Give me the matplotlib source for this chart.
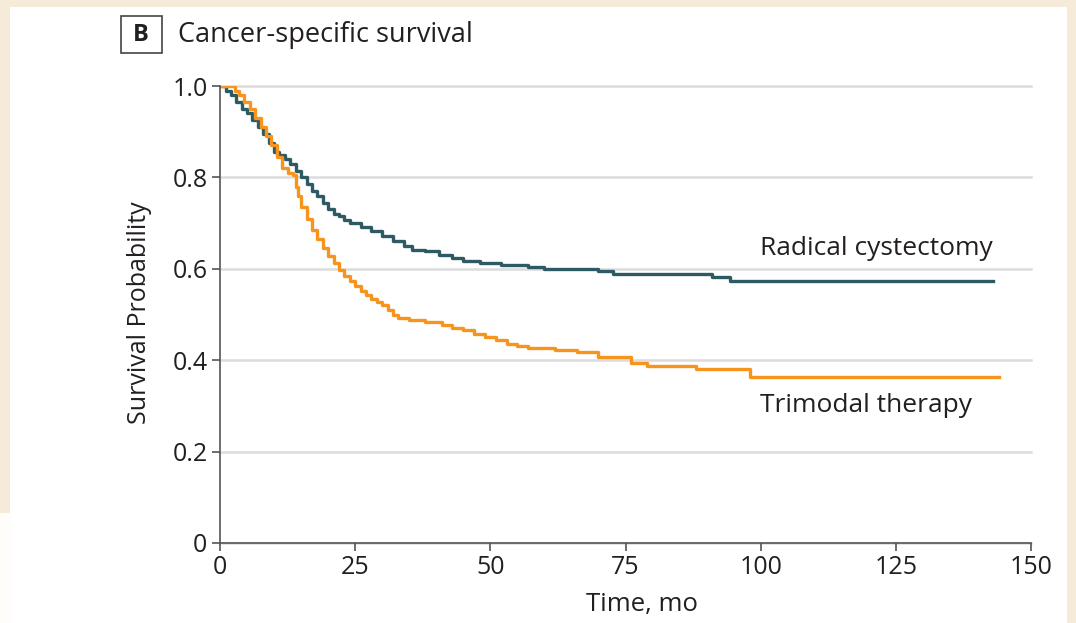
import matplotlib
matplotlib.use("Agg")
import matplotlib.pyplot as plt
from matplotlib.patches import Rectangle

# ---- data ----
rc_time = [0, 1.2, 2, 3, 4, 5, 6, 7, 8, 9, 10, 11, 12, 13, 14, 15, 16, 17, 18, 19,
           20, 21, 22, 23, 24, 26, 28, 30, 32, 34, 35.5, 38, 40.5, 43, 45, 48, 52,
           57, 60, 70, 72.7, 91, 94.3, 143]
rc_surv = [1.0, 0.99, 0.98, 0.965, 0.95, 0.94, 0.925, 0.91, 0.895, 0.875, 0.855,
           0.848, 0.84, 0.83, 0.815, 0.80, 0.785, 0.77, 0.76, 0.745, 0.73, 0.72,
           0.715, 0.707, 0.70, 0.692, 0.683, 0.672, 0.66, 0.65, 0.641, 0.638, 0.63,
           0.623, 0.618, 0.612, 0.608, 0.604, 0.599, 0.596, 0.589, 0.583, 0.573, 0.573]

tmt_time = [0, 2.8, 3.5, 4.5, 5.5, 6.5, 7.5, 8.5, 9.5, 10.5, 11.5, 12.5, 13.5, 14.0,
            14.5, 15, 16, 17, 18, 19, 20, 21, 22, 23, 24, 25, 26, 27, 28, 29, 30, 31,
            32, 33, 35, 38, 41, 43, 45, 47, 49, 51, 53, 55, 57, 62, 66, 70, 76, 79,
            88, 98, 144]
tmt_surv = [1.0, 0.99, 0.98, 0.965, 0.95, 0.93, 0.91, 0.89, 0.87, 0.845, 0.82, 0.81,
            0.805, 0.78, 0.76, 0.735, 0.71, 0.685, 0.665, 0.645, 0.628, 0.612, 0.598,
            0.585, 0.573, 0.562, 0.552, 0.542, 0.533, 0.527, 0.52, 0.51, 0.5, 0.493,
            0.488, 0.484, 0.478, 0.47, 0.465, 0.458, 0.451, 0.444, 0.436, 0.432,
            0.426, 0.423, 0.419, 0.408, 0.393, 0.387, 0.38, 0.364, 0.364]

x_ticks = [0, 25, 50, 75, 100, 125, 150]
y_ticks = [0, 0.2, 0.4, 0.6, 0.8, 1.0]
y_tick_labels = ["0", "0.2", "0.4", "0.6", "0.8", "1.0"]

panel_letter = "B"
title = "Cancer-specific survival"
series_labels = ["Radical cystectomy", "Trimodal therapy"]
x_label = "Time, mo"
y_label = "Survival Probability"

TEAL = "#2d5a63"
ORANGE = "#f7941d"
TEXT = "#231f20"
FONT = "Open Sans"

W, H = 1076, 623
fig = plt.figure(figsize=(W / 100, H / 100), dpi=100)
fig.patch.set_facecolor("#f5ebd8")

# white panel and light lower-left frame
fig.patches.append(Rectangle((10 / W, 0), (1067 - 10) / W, (H - 7) / H,
                             transform=fig.transFigure, facecolor="white",
                             edgecolor="none", zorder=-10))
fig.patches.append(Rectangle((0, 0), 12 / W, 110 / H, transform=fig.transFigure,
                             facecolor="#fffdf9", edgecolor="none", zorder=-10))

ax_left, ax_right, ax_top, ax_bottom = 220, 1031, 86, 543
ax = fig.add_axes([ax_left / W, 1 - ax_bottom / H, (ax_right - ax_left) / W,
                   (ax_bottom - ax_top) / H])
ax.set_zorder(1)
ax.set_facecolor("none")

ax.step(rc_time, rc_surv, where="post", color=TEAL, lw=2.4, zorder=3)
ax.step(tmt_time, tmt_surv, where="post", color=ORANGE, lw=2.4, zorder=3)

ax.set_xlim(0, 150)
ax.set_ylim(0, 1.0)
ax.set_xticks(x_ticks)
ax.set_yticks(y_ticks)
ax.set_yticklabels(y_tick_labels)
for y in y_ticks:
    ax.axhline(y, color="#dcdcdc", lw=1.8, zorder=1, clip_on=False)

for s in ["top", "right"]:
    ax.spines[s].set_visible(False)
for s in ["left", "bottom"]:
    ax.spines[s].set_color("#555555")
    ax.spines[s].set_linewidth(1.2)
    ax.spines[s].set_zorder(4)
ax.tick_params(direction="out", length=6, width=1.2, color="#555555",
               labelsize=18, labelcolor=TEXT, pad=3)
for lab in ax.get_xticklabels() + ax.get_yticklabels():
    lab.set_fontfamily(FONT)

ax.set_xlabel(x_label, fontsize=18.5, family=FONT, color=TEXT, va="center")
ax.set_ylabel(y_label, fontsize=18, family=FONT, color=TEXT, va="center")
ax.xaxis.set_label_coords((642 - ax_left) / (ax_right - ax_left),
                          -(605 - ax_bottom) / (ax_bottom - ax_top))
ax.yaxis.set_label_coords(-(ax_left - 139) / (ax_right - ax_left),
                          (ax_bottom - 313) / (ax_bottom - ax_top))

ax.text(143, 0.645, series_labels[0], fontsize=19, family=FONT,
        color=TEXT, ha="right", va="center")
ax.text(139, 0.30, series_labels[1], fontsize=19, family=FONT,
        color=TEXT, ha="right", va="center")

# title with boxed panel letter
fig.text(141 / W, 1 - 35 / H, panel_letter, fontsize=17, fontweight="bold",
         family=FONT, color=TEXT, ha="center", va="center")
fig.patches.append(Rectangle((121 / W, 1 - 53 / H), 41 / W, 37 / H,
                             transform=fig.transFigure, facecolor="none",
                             edgecolor="#444444", lw=1.2, zorder=2))
fig.text(178 / W, 1 - 35 / H, title, fontsize=19.5, family=FONT, color=TEXT,
         ha="left", va="center")

fig.savefig("out.png", dpi=100, facecolor=fig.get_facecolor())
